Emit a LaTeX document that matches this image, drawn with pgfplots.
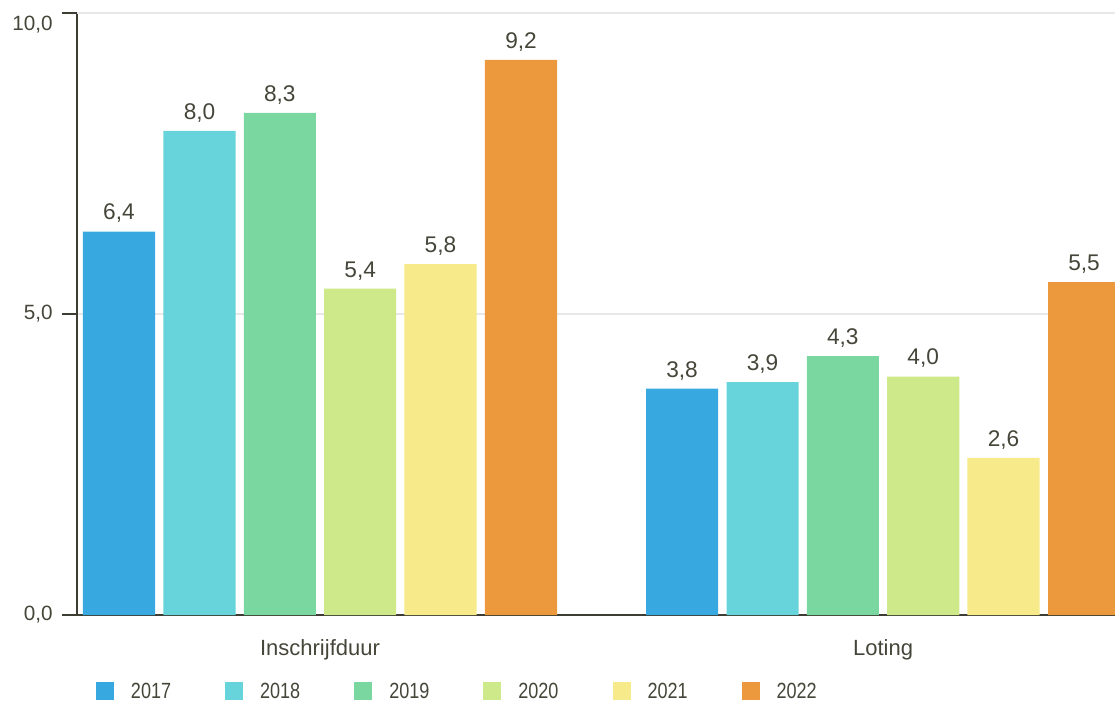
\documentclass[border=0pt]{standalone}
\usepackage{fontspec}
\setmainfont{Liberation Sans}
\newfontfamily\narrowfont[FakeStretch=0.82]{Liberation Sans}
\usepackage{pgfplots}
\pgfplotsset{compat=1.18}
\definecolor{c17}{HTML}{38A9E0}
\definecolor{c18}{HTML}{66D4DA}
\definecolor{c19}{HTML}{7BD7A0}
\definecolor{c20}{HTML}{CDE98A}
\definecolor{c21}{HTML}{F7EA8A}
\definecolor{c22}{HTML}{EC993E}
\definecolor{txt}{HTML}{454539}
\definecolor{axc}{HTML}{3D3D33}
\definecolor{gridc}{HTML}{E8E8E8}
\pgfplotsset{sqleg/.style={legend image code/.code={\fill[##1, draw=none] (0pt,-6.75pt) rectangle (13.5pt,6.75pt);}}}
\begin{document}
\begin{tikzpicture}
\begin{axis}[
 scale only axis, width=778.5pt, height=451.5pt,
 xmin=-0.4316, xmax=1.412, ymin=0, ymax=10,
 axis x line*=bottom, axis y line*=left,
 axis line style={draw=axc, line width=1.1pt, -},
 ytick={0,5}, ymajorgrids, grid style={gridc, line width=1.1pt},
 extra y ticks={10},
 extra y tick style={grid=major, yticklabel style={yshift=-8.5pt}},
 yticklabel style={font=\fontsize{15.5}{18}\selectfont, text=txt, xshift=-3.5pt},
 y tick style={draw=axc, line width=1.1pt}, tick align=outside, major tick length=11.25pt,
 xtick={0,1}, xticklabels={Inschrijfduur,Loting}, x tick style={draw=none},
 xticklabel style={font=\fontsize{16.5}{20}\selectfont, text=txt, yshift=-4pt},
 /pgf/number format/.cd, use comma, fixed, fixed zerofill, precision=1, assume math mode=true, /pgfplots/.cd,
 ybar, bar width=0.128,
 nodes near coords,
 every node near coord/.append style={font=\fontsize{17}{20}\selectfont, text=txt, yshift=3pt},
 legend columns=6,
 legend style={draw=none, fill=none, at={(0.0183,-0.127)}, anchor=west, inner sep=0pt, outer sep=0pt,
   column sep=0pt, /tikz/every odd column/.append style={column sep=12.75pt},
   /tikz/every even column/.append style={column sep=40.5pt},
   nodes={inner sep=0pt, anchor=west, font=\narrowfont\fontsize{16.5}{19}\selectfont, text=txt}},
]
\addplot[fill=c17, draw=none, bar shift=-0.357, sqleg] coordinates {(0,6.37) (1,3.76)};
\addplot[fill=c18, draw=none, bar shift=-0.214, sqleg] coordinates {(0,8.04) (1,3.87)};
\addplot[fill=c19, draw=none, bar shift=-0.0714, sqleg] coordinates {(0,8.34) (1,4.30)};
\addplot[fill=c20, draw=none, bar shift=0.0714, sqleg] coordinates {(0,5.42) (1,3.96)};
\addplot[fill=c21, draw=none, bar shift=0.214, sqleg] coordinates {(0,5.83) (1,2.61)};
\addplot[fill=c22, draw=none, bar shift=0.357, sqleg] coordinates {(0,9.22) (1,5.53)};
\legend{2017,2018,2019,2020,2021,2022}
\end{axis}
\pgfresetboundingbox
\path[use as bounding box] (-57.75pt,-66.75pt) rectangle (778.5pt,461.25pt);
\end{tikzpicture}
\end{document}
